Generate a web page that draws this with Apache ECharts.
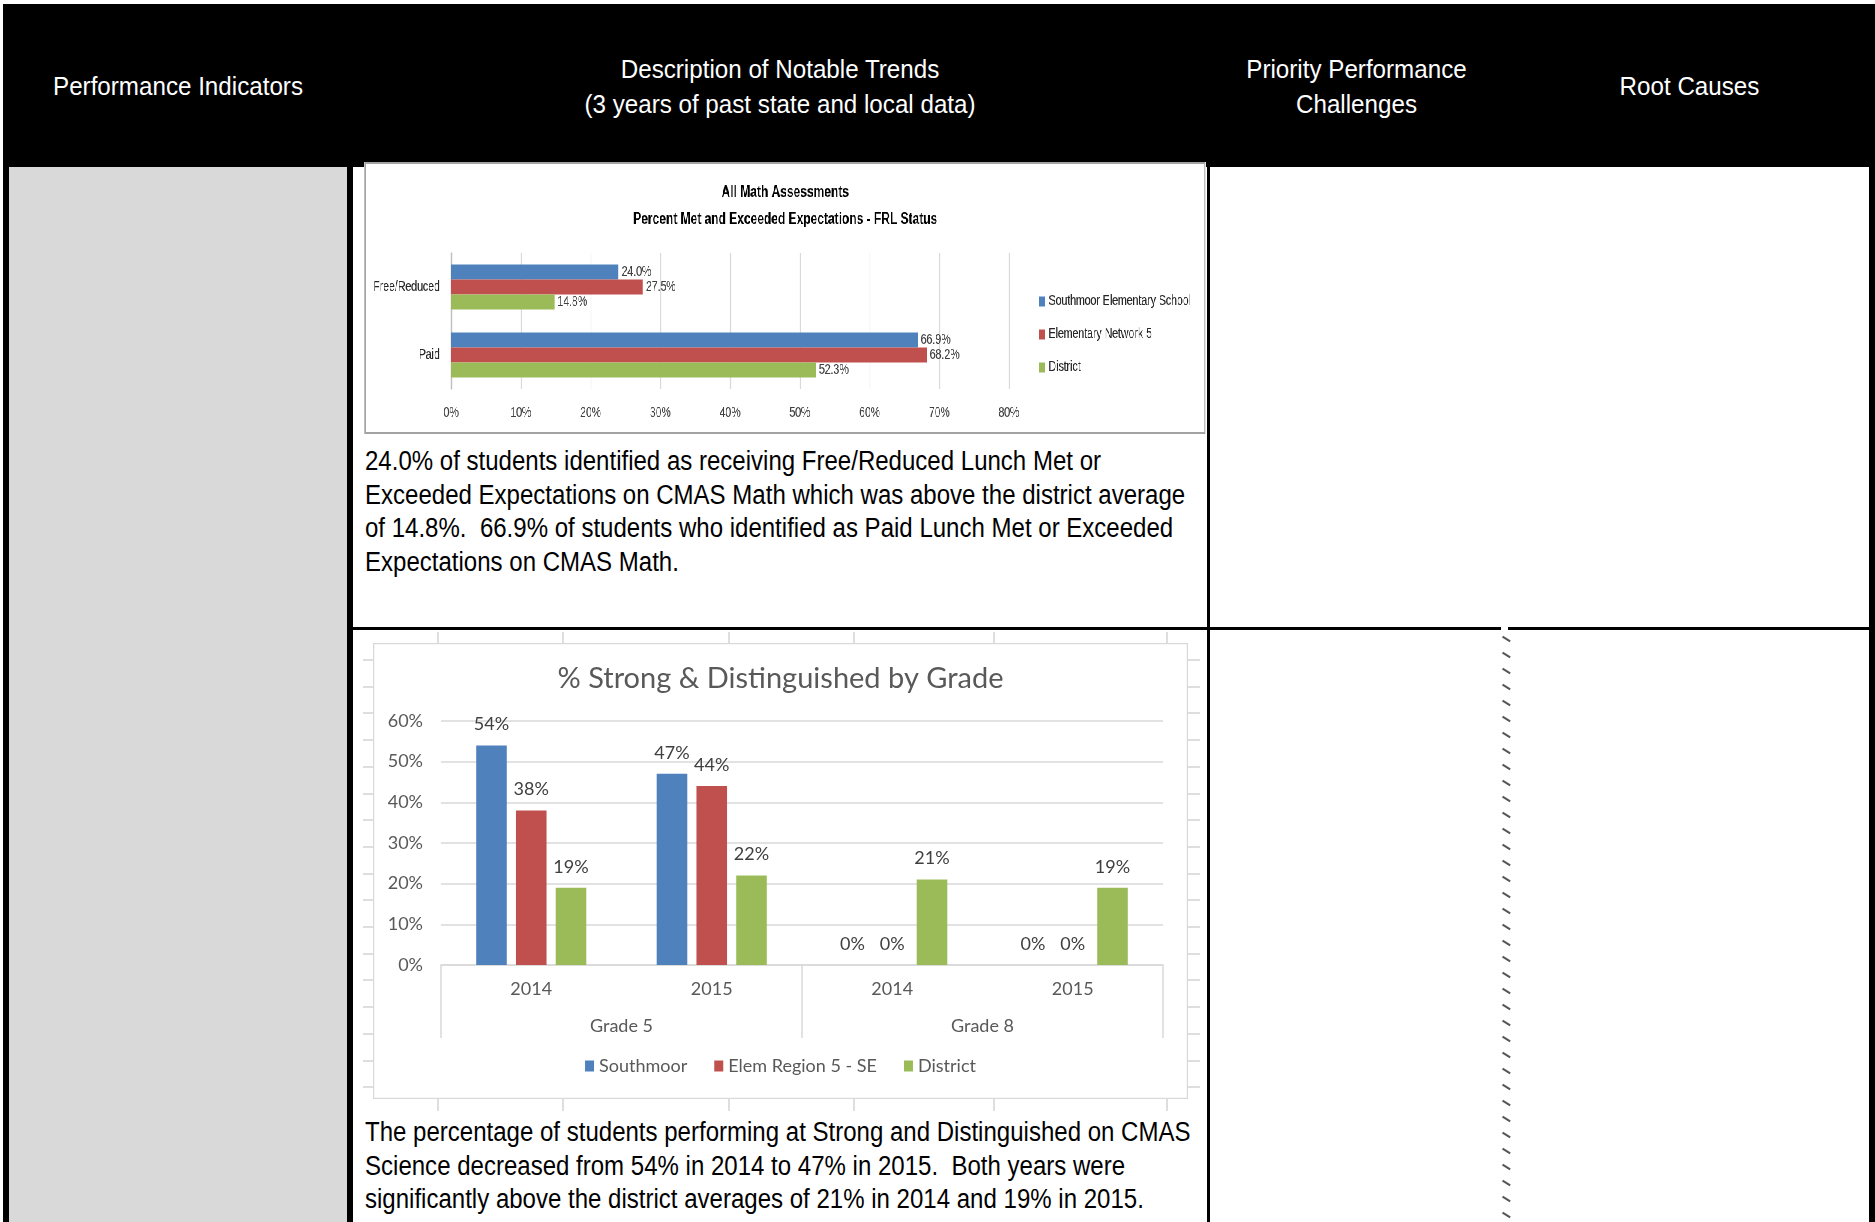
<!DOCTYPE html>
<html>
<head>
<meta charset="utf-8">
<title>UIP data narrative</title>
<script src="https://cdn.jsdelivr.net/npm/echarts@6.0.0/dist/echarts.min.js"></script>
<style>
  html, body { margin: 0; padding: 0; background: #fff; }
  #page { position: relative; width: 1875px; height: 1222px; overflow: hidden;
          font-family: 'Liberation Sans', Arial, sans-serif; }
  .blk { position: absolute; background: #000; }
  .hd { position: absolute; color: #fff; font-size: 26px; line-height: 35px; text-align: center;
        white-space: pre; transform: scaleX(0.93); transform-origin: 50% 0; }
  .para { position: absolute; left: 365px; font-size: 27px; line-height: 33.5px; color: #000;
          white-space: pre; transform: scaleX(0.89); transform-origin: 0 0; }
  .xl { position: absolute; background: #dedede; }
  .dot { position: absolute; width: 9px; height: 1.5px; background: #555; transform: rotate(32deg); }
</style>
</head>
<body>
<div id="page">
  <!-- table frame -->
  <div class="blk" style="left:3px;top:4px;width:1872px;height:163px"></div>
  <div class="blk" style="left:3px;top:167px;width:6px;height:1055px"></div>
  <div style="position:absolute;left:9px;top:167px;width:338px;height:1055px;background:#d9d9d9"></div>
  <div class="blk" style="left:347px;top:167px;width:6px;height:1055px"></div>
  <div class="blk" style="left:1207px;top:167px;width:3px;height:1055px"></div>
  <div class="blk" style="left:1869px;top:167px;width:6px;height:1055px"></div>
  <div class="blk" style="left:353px;top:627px;width:1148px;height:3px"></div>
  <div class="blk" style="left:1508px;top:627px;width:361px;height:3px"></div>

  <!-- header -->
  <div class="hd" style="left:9px;width:338px;top:69px">Performance Indicators</div>
  <div class="hd" style="left:353px;width:854px;top:52px">Description of Notable Trends
(3 years of past state and local data)</div>
  <div class="hd" style="left:1210px;width:293px;top:52px">Priority Performance
Challenges</div>
  <div class="hd" style="left:1510px;width:359px;top:69px">Root Causes</div>

  <div id="frlChart" style="position:absolute;left:364px;top:162px;width:1123px;height:272px;background:#fff;transform:scaleX(0.75);transform-origin:0 0"></div>
  <div class="para" style="top:445px">24.0% of students identified as receiving Free/Reduced Lunch Met or
Exceeded Expectations on CMAS Math which was above the district average
of 14.8%.  66.9% of students who identified as Paid Lunch Met or Exceeded
Expectations on CMAS Math.</div>

  <div id="sciChart" style="position:absolute;left:373px;top:643px;width:815px;height:456px;background:#fff"></div>
  <div class="para" style="top:1116px">The percentage of students performing at Strong and Distinguished on CMAS
Science decreased from 54% in 2014 to 47% in 2015.  Both years were
significantly above the district averages of 21% in 2014 and 19% in 2015.</div>
</div>

<script>
// chart 1 - math, FRL status
const frlCategories = ['Free/Reduced', 'Paid'];
const frlSouthmoor = [24.0, 66.9];
const frlNetwork = [27.5, 68.2];
const frlDistrict = [14.8, 52.3];
const frlNames = ['Southmoor Elementary School', 'Elementary Network 5', 'District'];

// chart 2 - science by grade
const sciYears = ['2014', '2015', '2014', '2015'];
const sciGrades = ['Grade 5', 'Grade 8'];
const sciSouthmoor = [54, 47, 0, 0];
const sciRegion = [38, 44, 0, 0];
const sciDistrict = [19, 22, 21, 19];
const sciNames = ['Southmoor', 'Elem Region 5 - SE', 'District'];

const colors = ['#4F81BD', '#C0504D', '#9BBB59'];
const arial = "'Liberation Sans', Arial, sans-serif";
const calibri = "Lato, 'Open Sans', sans-serif";

// spreadsheet gridlines peeking round the second chart, and the dotted cell border
const page = document.getElementById('page');
function addDiv(cls, l, t, w, h) {
    const d = document.createElement('div');
    d.className = cls;
    d.style.left = l + 'px'; d.style.top = t + 'px';
    if (w != null) d.style.width = w + 'px';
    if (h != null) d.style.height = h + 'px';
    page.appendChild(d);
}
[437, 562, 728, 853, 993, 1166].forEach(x => {
    addDiv('xl', x, 632, 2, 11);
    addDiv('xl', x, 1099, 2, 12);
});
for (let y = 659; y < 1095; y += 26.7) {
    addDiv('xl', 363, Math.round(y), 10, 2);
    addDiv('xl', 1188, Math.round(y), 12, 2);
}
for (let y = 638; y < 1222; y += 16) {
    addDiv('dot', 1502, y);
}

// the first chart is a squeezed picture in the source, so it is drawn wide and squashed by css (x 0.75)
let frlChart = echarts.init(document.getElementById('frlChart'));
frlChart.setOption({
    animation: false,
    color: colors,
    textStyle: { fontFamily: arial },
    graphic: [{
        type: 'rect',
        shape: { x: 1.3, y: 1, width: 1120, height: 270 },
        style: { fill: null, stroke: '#a3a3a3', lineWidth: 2 },
        silent: true
    }],
    title: {
        text: 'All Math Assessments\nPercent Met and Exceeded Expectations - FRL Status',
        left: 'center',
        top: 12,
        textStyle: { fontFamily: arial, fontSize: 16, fontWeight: 'bold', color: '#000', lineHeight: 27 }
    },
    legend: {
        orient: 'vertical',
        left: 895,
        top: 127,
        icon: 'rect',
        itemWidth: 8,
        itemHeight: 10,
        itemGap: 18,
        itemTextGap: 4,
        textStyle: { fontFamily: arial, fontSize: 14, color: '#262626', lineHeight: 15 },
        data: frlNames
    },
    grid: { left: 116, top: 91, width: 744, height: 136, outerBoundsMode: 'none' },
    xAxis: {
        type: 'value',
        min: 0,
        max: 80,
        interval: 10,
        axisLine: { show: false },
        axisTick: { show: false },
        axisLabel: { formatter: '{value}%', margin: 17, fontSize: 14, color: '#404040', fontFamily: arial },
        splitLine: { lineStyle: { color: '#d9d9d9', width: 1.3 } }
    },
    yAxis: {
        type: 'category',
        inverse: true,
        data: frlCategories,
        axisLine: { lineStyle: { color: '#bfbfbf', width: 1.3 } },
        axisTick: { show: false },
        axisLabel: { margin: 15, fontSize: 14, color: '#262626', fontFamily: arial }
    },
    series: [frlSouthmoor, frlNetwork, frlDistrict].map((vals, i) => ({
        name: frlNames[i],
        type: 'bar',
        data: vals,
        barGap: '0%',
        barCategoryGap: '34%',
        label: {
            show: true,
            position: 'right',
            distance: 4,
            fontFamily: arial,
            fontSize: 14,
            color: '#404040',
            formatter: p => p.value.toFixed(1) + '%'
        }
    }))
});

let sciChart = echarts.init(document.getElementById('sciChart'));
sciChart.setOption({
    animation: false,
    color: colors,
    textStyle: { fontFamily: calibri },
    graphic: [{
        type: 'rect',
        shape: { x: 0.5, y: 0.5, width: 814, height: 455 },
        style: { fill: null, stroke: '#d9d9d9', lineWidth: 1.5 },
        silent: true
    }],
    title: {
        text: '% Strong & Distinguished by Grade',
        left: 'center',
        top: 14,
        textStyle: { fontFamily: calibri, fontSize: 29, fontWeight: 'normal', color: '#595959', lineHeight: 33 }
    },
    legend: {
        left: 'center',
        top: 409,
        icon: 'rect',
        itemWidth: 9,
        itemHeight: 11,
        itemGap: 27,
        itemTextGap: 7,
        textStyle: { fontFamily: calibri, fontSize: 18, color: '#595959', lineHeight: 18 },
        data: sciNames
    },
    grid: { left: 68, top: 78, width: 722, height: 244, outerBoundsMode: 'none' },
    xAxis: [{
        type: 'category',
        data: sciYears,
        axisLine: { lineStyle: { color: '#d9d9d9', width: 1.5 } },
        axisTick: { show: false },
        axisLabel: { margin: 15, fontSize: 18, color: '#595959', fontFamily: calibri }
    }, {
        type: 'category',
        data: sciGrades,
        position: 'bottom',
        axisLine: { show: false },
        axisTick: { show: true, length: 73, lineStyle: { color: '#d9d9d9', width: 1.5 } },
        axisLabel: { margin: 52, fontSize: 18, color: '#595959', fontFamily: calibri }
    }],
    yAxis: {
        type: 'value',
        min: 0,
        max: 60,
        interval: 10,
        axisLine: { show: false },
        axisTick: { show: false },
        axisLabel: { formatter: '{value}%', margin: 18, fontSize: 18, color: '#595959', fontFamily: calibri },
        splitLine: { lineStyle: { color: '#d9d9d9', width: 1.5 } }
    },
    series: [sciSouthmoor, sciRegion, sciDistrict].map((vals, i) => ({
        name: sciNames[i],
        type: 'bar',
        xAxisIndex: 0,
        data: vals,
        barGap: '30%',
        barCategoryGap: '39%',
        label: {
            show: true,
            position: 'top',
            distance: 12,
            fontFamily: calibri,
            fontSize: 18,
            color: '#404040',
            formatter: '{c}%'
        }
    }))
});
</script>
</body>
</html>
